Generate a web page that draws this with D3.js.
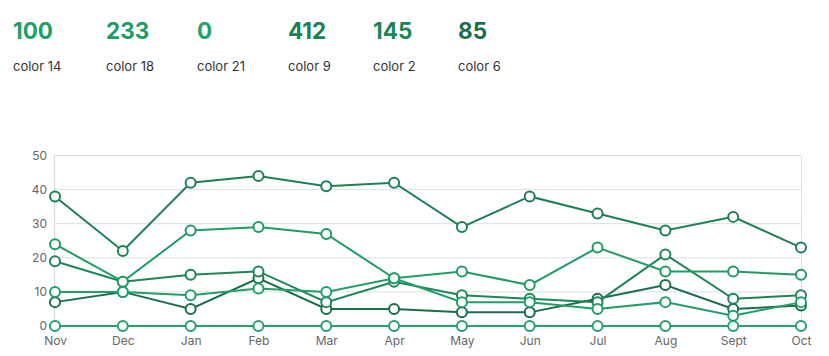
<!DOCTYPE html>
<html>
<head>
<meta charset="utf-8">
<script src="https://cdn.jsdelivr.net/npm/d3@7"></script>
<style>
  html, body { margin: 0; padding: 0; background: #fff; }
  svg { display: block; }
</style>
</head>
<body>
<svg id="chart" width="829" height="356"></svg>
<script>
const months = ["Nov","Dec","Jan","Feb","Mar","Apr","May","Jun","Jul","Aug","Sept","Oct"];
const seriesNames = ["color 14","color 18","color 21","color 9","color 2","color 6"];
const seriesColors = ["#20a068","#1f9c64","#22a36b","#1c8054","#1d8656","#1a6e48"];
const color14 = [10,10,9,11,10,14,7,7,5,7,3,7];
const color18 = [24,13,28,29,27,14,16,12,23,16,16,15];
const color21 = [0,0,0,0,0,0,0,0,0,0,0,0];
const color9  = [38,22,42,44,41,42,29,38,33,28,32,23];
const color2  = [19,13,15,16,7,13,9,8,7,21,8,9];
const color6  = [7,10,5,14,5,5,4,4,8,12,5,6];
const yTicks = [0,10,20,30,40,50];

const seriesValues = [color14, color18, color21, color9, color2, color6];
const series = seriesNames.map((n, i) => ({ name: n, color: seriesColors[i], values: seriesValues[i], total: d3.sum(seriesValues[i]) }));

const svg = d3.select("#chart");
const font = "Inter, 'Liberation Sans', Arial, sans-serif";

// Header summaries
const headerX = [13, 106, 197, 288, 373, 458];
const header = svg.append("g");
series.forEach((s, i) => {
  header.append("text").attr("x", headerX[i]).attr("y", 39)
    .attr("font-family", font).attr("font-weight", 700).attr("font-size", 22.5)
    .attr("fill", s.color).text(s.total);
  header.append("text").attr("x", headerX[i]).attr("y", 71)
    .attr("font-family", font).attr("font-size", 13)
    .attr("fill", "#333").text(s.name);
});

const pLeft = 55, pRight = 801, pTop = 155.5, pBottom = 326;
const x = d3.scalePoint().domain(months).range([pLeft, pRight]);
const y = d3.scaleLinear().domain([0, 50]).range([pBottom, pTop]);

// grid
const grid = svg.append("g");
grid.selectAll("line.h").data(yTicks).join("line")
  .attr("x1", pLeft).attr("x2", pRight)
  .attr("y1", d => y(d)).attr("y2", d => y(d))
  .attr("stroke", "#dedede").attr("stroke-width", 1);
grid.append("line").attr("x1", pLeft - 0.5).attr("x2", pLeft - 0.5).attr("y1", pTop).attr("y2", pBottom)
  .attr("stroke", "#d6d6d6");
grid.append("line").attr("x1", pRight + 0.5).attr("x2", pRight + 0.5).attr("y1", pTop).attr("y2", pBottom)
  .attr("stroke", "#dedede");

// y axis labels
const yAxis = d3.axisLeft(y).tickValues(yTicks).tickSize(0).tickPadding(8);
const yg = svg.append("g").attr("transform", `translate(${pLeft},0)`).call(yAxis);
yg.select(".domain").remove();
yg.selectAll("text").attr("font-family", font).attr("font-size", 12).attr("fill", "#666");

// x axis labels
const xAxis = d3.axisBottom(x).tickSize(0).tickPadding(10);
const xg = svg.append("g").attr("transform", `translate(0,${pBottom})`).call(xAxis);
xg.select(".domain").remove();
xg.selectAll("text").attr("font-family", font).attr("font-size", 12).attr("fill", "#666");

// lines and points
const line = d3.line().x((d, i) => x(months[i])).y(d => y(d));
const drawOrder = series.slice().reverse();
const lg = svg.append("g");
drawOrder.forEach(s => {
  lg.append("path").datum(s.values).attr("d", line)
    .attr("fill", "none").attr("stroke", s.color).attr("stroke-width", 2);
  lg.selectAll(null).data(s.values).join("circle")
    .attr("cx", (d, i) => x(months[i])).attr("cy", d => y(d)).attr("r", 5)
    .attr("fill", "#fff").attr("stroke", s.color).attr("stroke-width", 2);
});
</script>
</body>
</html>
